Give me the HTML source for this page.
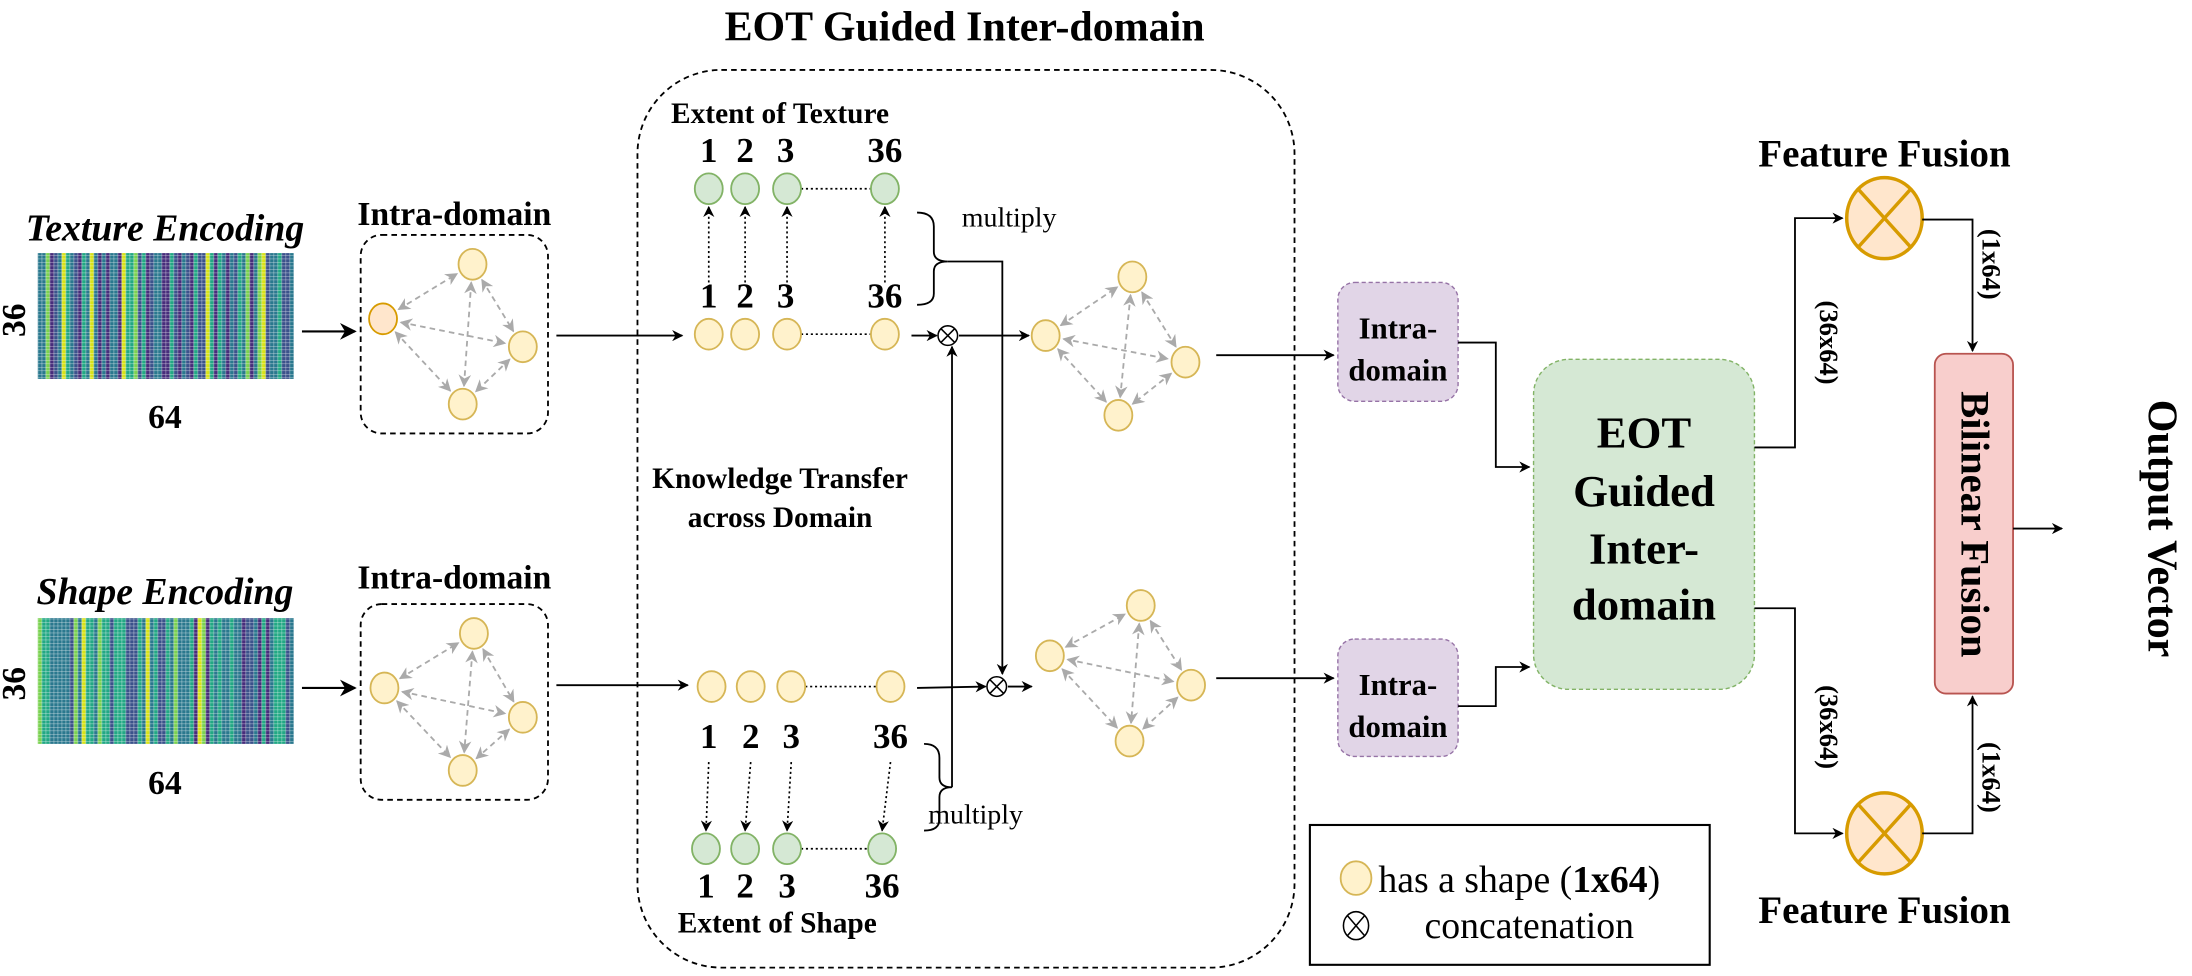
<!DOCTYPE html>
<html><head><meta charset="utf-8"><style>
html,body{margin:0;padding:0;background:#fff;}
svg{display:block;}
text{font-family:"Liberation Serif",serif;}
</style></head><body>
<svg id="s" width="2192" height="976" viewBox="0 0 1568 698" preserveAspectRatio="none" xmlns="http://www.w3.org/2000/svg">
<defs>
<marker id="a" viewBox="0 0 10 10" refX="9" refY="5" markerWidth="8" markerHeight="8" orient="auto-start-reverse" markerUnits="userSpaceOnUse"><path d="M0,0 L10,5 L0,10 L3,5 z" fill="#000"/></marker>
<marker id="ab" viewBox="0 0 10 10" refX="9" refY="5" markerWidth="12" markerHeight="12" orient="auto-start-reverse" markerUnits="userSpaceOnUse"><path d="M0,0 L10,5 L0,10 L3,5 z" fill="#000"/></marker>
<marker id="g" viewBox="0 0 10 10" refX="9" refY="5" markerWidth="9" markerHeight="9" orient="auto-start-reverse" markerUnits="userSpaceOnUse"><path d="M0,0 L10,5 L0,10 L3,5 z" fill="#aaa"/></marker>
<pattern id="grid" width="2.86" height="2.5" patternUnits="userSpaceOnUse" x="27"><path d="M0,0 H2.86 M0,0 V2.5" stroke="#fff" stroke-width="0.5" opacity="0.8"/></pattern>
</defs>

<text x="690" y="29" font-size="30" font-weight="bold" text-anchor="middle">EOT Guided Inter-domain</text>
<rect x="456" y="50" width="470" height="642" rx="60" fill="none" stroke="#000" stroke-dasharray="4,3" stroke-width="1.3"/>

<text x="118" y="172" font-size="27" font-weight="bold" font-style="italic" text-anchor="middle">Texture Encoding</text>
<g id="hm1"></g>
<text x="18" y="229" font-size="24" font-weight="bold" text-anchor="middle" transform="rotate(-90 18 229)">36</text>
<text x="118" y="306" font-size="24" font-weight="bold" text-anchor="middle">64</text>

<text x="118" y="432" font-size="27" font-weight="bold" font-style="italic" text-anchor="middle">Shape Encoding</text>
<g id="hm2"></g>
<text x="18" y="489" font-size="24" font-weight="bold" text-anchor="middle" transform="rotate(-90 18 489)">36</text>
<text x="118" y="568" font-size="24" font-weight="bold" text-anchor="middle">64</text>

<line x1="216" y1="237" x2="254" y2="237" stroke="#000" stroke-width="1.5" marker-end="url(#ab)"/>
<line x1="216" y1="492" x2="254" y2="492" stroke="#000" stroke-width="1.5" marker-end="url(#ab)"/>

<text x="325" y="161" font-size="24" font-weight="bold" text-anchor="middle">Intra-domain</text>
<rect x="258" y="168" width="134" height="142" rx="15" fill="none" stroke="#000" stroke-dasharray="4,3" stroke-width="1.3"/>
<text x="325" y="421" font-size="24" font-weight="bold" text-anchor="middle">Intra-domain</text>
<rect x="258" y="432" width="134" height="140" rx="15" fill="none" stroke="#000" stroke-dasharray="4,3" stroke-width="1.3"/>
<g id="graphs"></g>

<line x1="398" y1="240" x2="488" y2="240" stroke="#000" stroke-width="1.3" marker-end="url(#a)"/>
<line x1="398" y1="490" x2="492" y2="490" stroke="#000" stroke-width="1.3" marker-end="url(#a)"/>

<text x="558" y="88" font-size="21" font-weight="bold" text-anchor="middle">Extent of Texture</text>
<g font-size="25" font-weight="bold" text-anchor="middle">
<text x="507" y="116">1</text><text x="533" y="116">2</text><text x="562" y="116">3</text><text x="633" y="116">36</text>
<text x="507" y="220">1</text><text x="533" y="220">2</text><text x="562" y="220">3</text><text x="633" y="220">36</text>
<text x="507" y="535">1</text><text x="537" y="535">2</text><text x="566" y="535">3</text><text x="637" y="535">36</text>
<text x="505" y="642">1</text><text x="533" y="642">2</text><text x="563" y="642">3</text><text x="631" y="642">36</text>
</g>
<g id="rows"></g>
<text x="556" y="667" font-size="21" font-weight="bold" text-anchor="middle">Extent of Shape</text>

<path d="M656,152 Q668,152 668,162 L668,180 Q668,187 678,187 Q668,187 668,194 L668,210 Q668,218 656,218" fill="none" stroke="#000" stroke-width="1.3"/>
<text x="688" y="162" font-size="20">multiply</text>
<path d="M678,187 H717 V482" fill="none" stroke="#000" stroke-width="1.3" marker-end="url(#a)"/>
<path d="M661,532 Q672,532 672,542 L672,556 Q672,563 681,563 Q672,563 672,570 L672,586 Q672,594 661,594" fill="none" stroke="#000" stroke-width="1.3"/>
<text x="664" y="589" font-size="20">multiply</text>
<path d="M681,563 V248" fill="none" stroke="#000" stroke-width="1.3" marker-end="url(#a)"/>

<line x1="652" y1="240" x2="670" y2="240" stroke="#000" stroke-width="1.3" marker-end="url(#a)"/>
<g stroke="#000" stroke-width="1.1" fill="#fff"><circle cx="678" cy="240" r="7"/><path d="M673,235 L683,245 M683,235 L673,245"/></g>
<line x1="686" y1="240" x2="736" y2="240" stroke="#000" stroke-width="1.3" marker-end="url(#a)"/>
<line x1="656" y1="492" x2="705" y2="491" stroke="#000" stroke-width="1.3" marker-end="url(#a)"/>
<g stroke="#000" stroke-width="1.1" fill="#fff"><circle cx="713" cy="491" r="7"/><path d="M708,486 L718,496 M718,486 L708,496"/></g>
<line x1="721" y1="491" x2="738" y2="491" stroke="#000" stroke-width="1.3" marker-end="url(#a)"/>

<text x="558" y="349" font-size="21" font-weight="bold" text-anchor="middle">Knowledge Transfer</text>
<text x="558" y="377" font-size="21" font-weight="bold" text-anchor="middle">across Domain</text>

<line x1="870" y1="254" x2="954" y2="254" stroke="#000" stroke-width="1.3" marker-end="url(#a)"/>
<line x1="870" y1="485" x2="954" y2="485" stroke="#000" stroke-width="1.3" marker-end="url(#a)"/>

<rect x="957" y="202" width="86" height="85" rx="12" fill="#e1d5e7" stroke="#9673a6" stroke-dasharray="3,2"/>
<text x="1000" y="242" font-size="22" font-weight="bold" text-anchor="middle">Intra-</text>
<text x="1000" y="272" font-size="22" font-weight="bold" text-anchor="middle">domain</text>
<rect x="957" y="457" width="86" height="84" rx="12" fill="#e1d5e7" stroke="#9673a6" stroke-dasharray="3,2"/>
<text x="1000" y="497" font-size="22" font-weight="bold" text-anchor="middle">Intra-</text>
<text x="1000" y="527" font-size="22" font-weight="bold" text-anchor="middle">domain</text>

<path d="M1043,245 H1070 V334 H1094" fill="none" stroke="#000" stroke-width="1.3" marker-end="url(#a)"/>
<path d="M1043,505 H1070 V477 H1094" fill="none" stroke="#000" stroke-width="1.3" marker-end="url(#a)"/>

<rect x="1097" y="257" width="158" height="236" rx="25" fill="#d5e8d4" stroke="#82b366" stroke-dasharray="3,2"/>
<g font-size="32" font-weight="bold" text-anchor="middle">
<text x="1176" y="320">EOT</text><text x="1176" y="362">Guided</text><text x="1176" y="403">Inter-</text><text x="1176" y="443">domain</text>
</g>

<path d="M1255,320 H1284 V156 H1318" fill="none" stroke="#000" stroke-width="1.3" marker-end="url(#a)"/>
<path d="M1255,435 H1284 V596 H1318" fill="none" stroke="#000" stroke-width="1.3" marker-end="url(#a)"/>
<g stroke="#d79b00" stroke-width="2.5" fill="#ffe6cc">
<ellipse cx="1348" cy="156" rx="27" ry="29"/><path d="M1329,135 L1367,177 M1367,135 L1329,177" fill="none"/>
<ellipse cx="1348" cy="596" rx="27" ry="29"/><path d="M1329,575 L1367,617 M1367,575 L1329,617" fill="none"/>
</g>
<text x="1348" y="119" font-size="28" font-weight="bold" text-anchor="middle">Feature Fusion</text>
<text x="1348" y="660" font-size="28" font-weight="bold" text-anchor="middle">Feature Fusion</text>
<path d="M1375,157 H1411 V251" fill="none" stroke="#000" stroke-width="1.3" marker-end="url(#a)"/>
<path d="M1375,596 H1411 V498" fill="none" stroke="#000" stroke-width="1.3" marker-end="url(#a)"/>
<g font-size="19" font-weight="bold" text-anchor="middle">
<text transform="translate(1302,245) rotate(90)">(36x64)</text>
<text transform="translate(1302,520) rotate(90)">(36x64)</text>
<text transform="translate(1418,189) rotate(90)">(1x64)</text>
<text transform="translate(1418,556) rotate(90)">(1x64)</text>
</g>
<rect x="1384" y="253" width="56" height="243" rx="8" fill="#f8cecc" stroke="#b85450" stroke-width="1.3"/>
<text transform="translate(1403,375) rotate(90)" font-size="29" font-weight="bold" text-anchor="middle">Bilinear Fusion</text>
<line x1="1440" y1="378" x2="1475" y2="378" stroke="#000" stroke-width="1.3" marker-end="url(#a)"/>
<text transform="translate(1537,378) rotate(90)" font-size="30" font-weight="bold" text-anchor="middle">Output Vector</text>

<rect x="937" y="590" width="286" height="100" fill="none" stroke="#000" stroke-width="1.5"/>
<ellipse cx="970" cy="628" rx="11" ry="12" fill="#fff2cc" stroke="#d6b656" stroke-width="1.3"/>
<text x="986" y="638" font-size="27">has a shape (<tspan font-weight="bold">1x64</tspan>)</text>
<g stroke="#000" stroke-width="1.1" fill="#fff"><ellipse cx="970" cy="662" rx="9" ry="10"/><path d="M964,655 L976,669 M976,655 L964,669"/></g>
<text x="1019" y="671" font-size="27">concatenation</text>
</svg>
<script>
var NS="http://www.w3.org/2000/svg";
function el(p,t,a){var e=document.createElementNS(NS,t);for(var k in a)e.setAttribute(k,a[k]);p.appendChild(e);return e;}
function seed(s){return function(){s=(s*9301+49297)%233280;return s/233280;}}
function hm(id,y,sd){var g=document.getElementById(id);var r=seed(sd);var w=183/64;
 for(var i=0;i<64;i++){var v=r();var c;
  if(v<0.08)c="#d8e219";else if(v<0.14)c="#7ad151";else if(v<0.3)c="#472d7b";else if(v<0.45)c="#3b528b";else if(v<0.7)c="#2a788e";else c="#22a884";
  el(g,"rect",{x:27+i*w,y:y,width:w+0.05,height:90,fill:c});}
 el(g,"rect",{x:27,y:y,width:183,height:90,fill:"url(#grid)"});}
hm("hm1",181,7);hm("hm2",442,23);
var G=document.getElementById("graphs");
function graph(n,orangeFirst){
 var names=[[0,1],[0,2],[0,3],[1,2],[1,3],[2,3]];
 names.forEach(function(p){var a=n[p[0]],b=n[p[1]];var dx=b[0]-a[0],dy=b[1]-a[1],L=Math.sqrt(dx*dx+dy*dy);var ux=dx/L,uy=dy/L,r=13;
  el(G,"line",{x1:a[0]+ux*r,y1:a[1]+uy*r,x2:b[0]-ux*r,y2:b[1]-uy*r,stroke:"#aaa","stroke-width":1.3,"stroke-dasharray":"4,3","marker-start":"url(#g)","marker-end":"url(#g)"});});
 n.forEach(function(p,i){el(G,"ellipse",{cx:p[0],cy:p[1],rx:10,ry:11,fill:(i==0&&orangeFirst)?"#ffe6cc":"#fff2cc",stroke:(i==0&&orangeFirst)?"#d79b00":"#d6b656","stroke-width":1.3});});}
graph([[274,228],[338,189],[374,248],[331,289]],true);
graph([[275,492],[339,453],[374,513],[331,551]],false);
graph([[748,240],[810,198],[848,259],[800,297]],false);
graph([[751,469],[816,433],[852,490],[808,530]],false);
var R=document.getElementById("rows");
function row(xs,y,fill,stroke){el(R,"line",{x1:xs[2]+10,y1:y,x2:xs[3]-10,y2:y,stroke:"#000","stroke-width":1.2,"stroke-dasharray":"1.5,2"});
 xs.forEach(function(x){el(R,"ellipse",{cx:x,cy:y,rx:10,ry:11,fill:fill,stroke:stroke,"stroke-width":1.3});});}
row([507,533,563,633],135,"#d5e8d4","#82b366");
row([507,533,563,633],239,"#fff2cc","#d6b656");
row([509,537,566,637],491,"#fff2cc","#d6b656");
row([505,533,563,631],607,"#d5e8d4","#82b366");
[507,533,563,633].forEach(function(x){el(R,"line",{x1:x,y1:202,x2:x,y2:148,stroke:"#000","stroke-width":1.2,"stroke-dasharray":"1.5,2","marker-end":"url(#a)"});});
[[507,505],[537,533],[566,563],[637,631]].forEach(function(p){el(R,"line",{x1:p[0],y1:545,x2:p[1],y2:594,stroke:"#000","stroke-width":1.2,"stroke-dasharray":"1.5,2","marker-end":"url(#a)"});});
</script>
</body></html>
